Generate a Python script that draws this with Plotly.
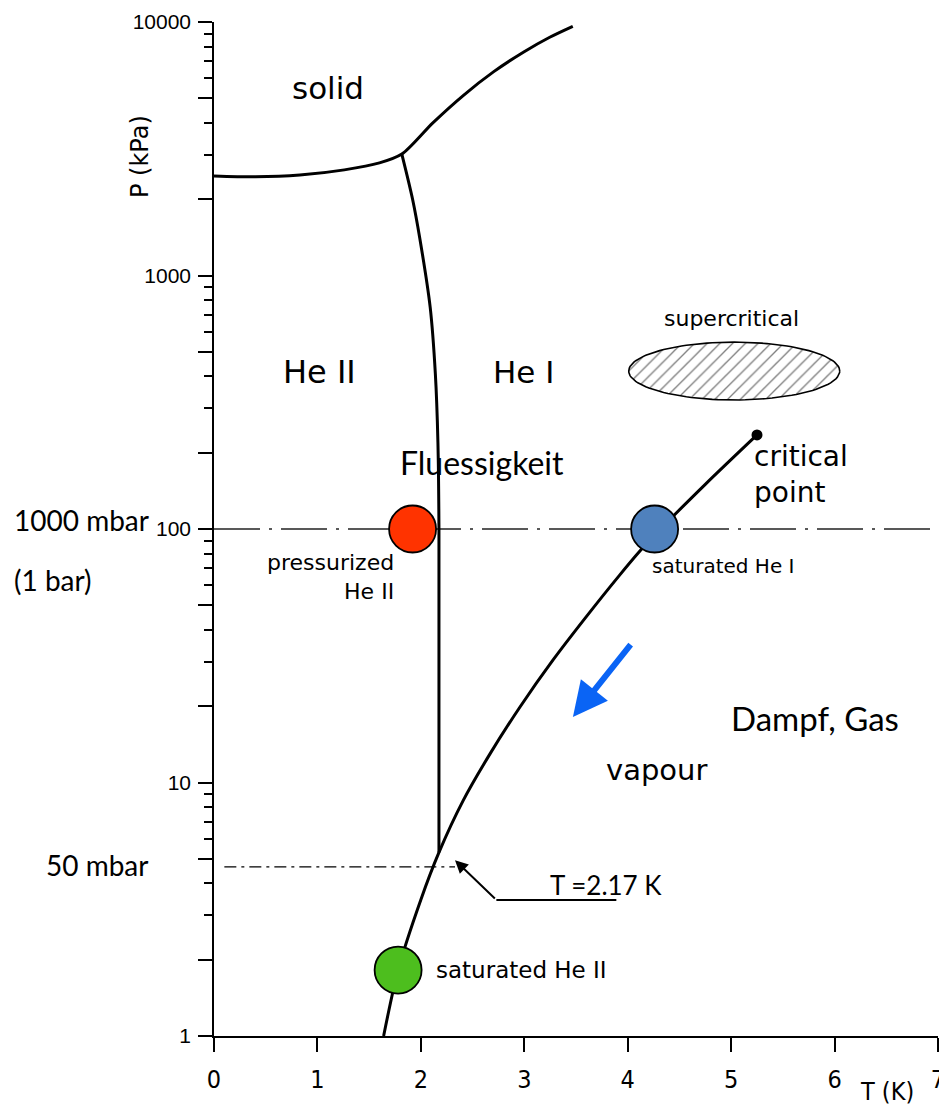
import numpy as np
import plotly.graph_objects as go

# ---------------- data ----------------
# melting curve (solid / liquid)
melt_T = [0.0, 0.4, 0.83, 1.26, 1.60, 1.816, 2.116, 2.415, 2.705, 2.995, 3.246, 3.469]
melt_P = [2470, 2450, 2490, 2610, 2780, 3013, 4000, 5150, 6370, 7620, 8710, 9620]

# lambda line (He II / He I)
lambda_T = [1.816, 1.92, 1.99, 2.09, 2.14, 2.165, 2.175, 2.175]
lambda_P = [3013, 2000, 1400, 750, 410, 220, 100, 5.3]

# saturated vapour pressure curve
vap_T = [1.64, 1.78, 2.0, 2.175, 2.41, 2.67, 2.96, 3.28, 3.60, 3.92, 4.12, 4.26, 4.75, 5.25]
vap_P = [1.0, 1.82, 3.45, 5.3, 8.5, 13.0, 19.9, 30.5, 45.1, 65.6, 82.0, 94.6, 150, 235]

# critical point
crit_T = [5.25]
crit_P = [235]

# marked states
state_names = ["pressurized He II", "saturated He I", "saturated He II"]
state_T = [1.92, 4.26, 1.78]
state_P = [100, 100, 1.82]
state_colors = ["#FF3300", "#4F81BD", "#4DBE1E"]

# reference pressures
P_1bar = 100
P_50mbar = 4.65
T_lambda = 2.17

# supercritical region (ellipse centre / half-axes, T and log10 P)
super_T0, super_T_r = 5.03, 1.02
super_L0, super_L_r = 2.623, 0.114

# axis ticks
x_ticks = [0, 1, 2, 3, 4, 5, 6, 7]
y_major = [1, 10, 100, 1000, 10000]
y_major_text = ["1", "10", "100", "1000", "10000"]
y_long = [2, 5, 20, 50, 200, 500, 2000, 5000]
y_minor = [m * 10 ** d for d in range(4) for m in (3, 4, 6, 7, 8, 9)]

# ---------------- figure ----------------
TECH = "DejaVu Sans"
CAL = "Lato, Carlito, 'Open Sans', sans-serif"
NARROW = "Liberation Sans Narrow, DejaVu Sans Condensed, sans-serif"
LINE = dict(color="black", width=3)

fig = go.Figure()

# supercritical hatched ellipse
th = np.linspace(0, 2 * np.pi, 121)
fig.add_trace(go.Scatter(
    x=super_T0 + super_T_r * np.cos(th),
    y=10 ** (super_L0 + super_L_r * np.sin(th)),
    mode="lines", fill="toself",
    line=dict(color="black", width=1.6),
    fillcolor="white",
    fillpattern=dict(shape="/", size=9, solidity=0.15, fgcolor="black", bgcolor="white"),
    hoverinfo="skip", showlegend=False))

# 1 bar reference line
fig.add_trace(go.Scatter(x=[x_ticks[0], x_ticks[-1]], y=[P_1bar, P_1bar], mode="lines",
                         line=dict(color="#222", width=1.3, dash="46px,9px,3px,9px"),
                         hoverinfo="skip", showlegend=False))
# 50 mbar reference line
fig.add_trace(go.Scatter(x=[0.1, 2.33], y=[P_50mbar, P_50mbar], mode="lines",
                         line=dict(color="black", width=1.3, dash="12px,5px,3px,5px"),
                         hoverinfo="skip", showlegend=False))

# phase boundaries
for T, P in ((melt_T, melt_P), (lambda_T, lambda_P), (vap_T, vap_P)):
    fig.add_trace(go.Scatter(x=T, y=P, mode="lines", line=dict(shape="spline", smoothing=0.8, **LINE),
                             hoverinfo="skip", showlegend=False))

# critical point
fig.add_trace(go.Scatter(x=crit_T, y=crit_P, mode="markers",
                         marker=dict(color="black", size=11), showlegend=False))

# pointer line for T = 2.17 K
fig.add_trace(go.Scatter(x=[2.73, 3.89], y=[3.44, 3.44], mode="lines",
                         line=dict(color="black", width=2), hoverinfo="skip", showlegend=False))

# marked states
fig.add_trace(go.Scatter(x=state_T, y=state_P, mode="markers", text=state_names,
                         marker=dict(color=state_colors, size=47, line=dict(color="black", width=1.8)),
                         showlegend=False))

ann = []
def tlabel(text, x, logy, size, font=TECH, xanchor="center", align="center", xref="x"):
    ann.append(dict(text=text, x=x, y=logy, xref=xref, yref="y", showarrow=False,
                    font=dict(family=font, size=size, color="black"),
                    xanchor=xanchor, yanchor="middle", align=align))

tlabel("solid", 1.10, 3.74, 31)
tlabel("He II", 1.02, 2.62, 32)
tlabel("He I", 2.99, 2.62, 31)
tlabel("supercritical", 5.0, 2.83, 22)
tlabel("critical<br>point", 5.2, 2.215, 28, xanchor="left", align="left")
tlabel("pressurized<br>He II", 1.76, 1.81, 22, xanchor="right", align="right")
tlabel("saturated He I", 4.22, 1.855, 20, xanchor="left")
tlabel("saturated He II", 2.13, 0.26, 23, xanchor="left")
tlabel("vapour", 4.28, 1.05, 29)
tlabel("Fluessigkeit", 2.59, 2.264, 32, font=CAL)
tlabel("Dampf, Gas", 5.81, 1.255, 33, font=CAL)
tlabel("T =2.17 K", 3.23, 0.597, 26, font=CAL, xanchor="left")
tlabel("1000 mbar", -0.279, 2.035, 28, font=CAL, xanchor="left", xref="paper")
tlabel("(1 bar)", -0.279, 1.80, 28, font=CAL, xanchor="left", xref="paper")
tlabel("50 mbar", -0.235, 0.675, 28, font=CAL, xanchor="left", xref="paper")

# arrow to lambda point
ann.append(dict(x=2.33, y=np.log10(4.94), ax=2.73, ay=np.log10(3.44), xref="x", yref="y",
                axref="x", ayref="y", text="", showarrow=True, arrowhead=2, arrowsize=1.3,
                arrowwidth=2, arrowcolor="black", standoff=0, startstandoff=0))
# blue arrow
ann.append(dict(x=3.47, y=1.258, ax=4.04, ay=1.55, xref="x", yref="y",
                axref="x", ayref="y", text="", showarrow=True, arrowhead=2, arrowsize=1.15,
                arrowwidth=6, arrowcolor="#0A64F5", standoff=0, startstandoff=0))

# axis titles
ann.append(dict(text="P (kPa)", x=-0.102, y=0.867, xref="paper", yref="paper", showarrow=False,
                xanchor="center", yanchor="middle",
                textangle=-90, font=dict(family=TECH, size=24, color="black")))
ann.append(dict(text="T (K)", x=0.93, y=-0.055, xref="paper", yref="paper", showarrow=False,
                xanchor="center", yanchor="middle",
                font=dict(family=NARROW, size=25, color="black")))

fig.update_layout(
    width=939, height=1110,
    margin=dict(l=214, r=1, t=22, b=74, autoexpand=False),
    paper_bgcolor="white", plot_bgcolor="white",
    annotations=ann,
    xaxis=dict(range=[0, 7], tickvals=x_ticks, showgrid=False, zeroline=False,
               automargin=False,
               showline=True, linecolor="black", linewidth=1.5,
               ticks="outside", ticklen=14, tickwidth=1.5, tickcolor="black",
               ticklabelstandoff=6, ticklabeloverflow="allow",
               tickfont=dict(family=NARROW, size=25, color="black")),
    yaxis=dict(type="log", range=[0, 4], tickvals=y_major + y_long,
               ticktext=y_major_text + [""] * len(y_long),
               automargin=False,
               showgrid=False, zeroline=False,
               showline=True, linecolor="black", linewidth=1.5,
               ticks="outside", ticklen=14, tickwidth=1.5, tickcolor="black",
               ticklabelstandoff=3,
               minor=dict(tickvals=y_minor, ticks="outside", ticklen=8, tickwidth=1.5, tickcolor="black", showgrid=False),
               tickfont=dict(family="Liberation Sans, Arial, sans-serif", size=21, color="black")),
)

fig.write_html("out.html", config={"displayModeBar": False},
               post_script="document.body.style.margin='0';")
